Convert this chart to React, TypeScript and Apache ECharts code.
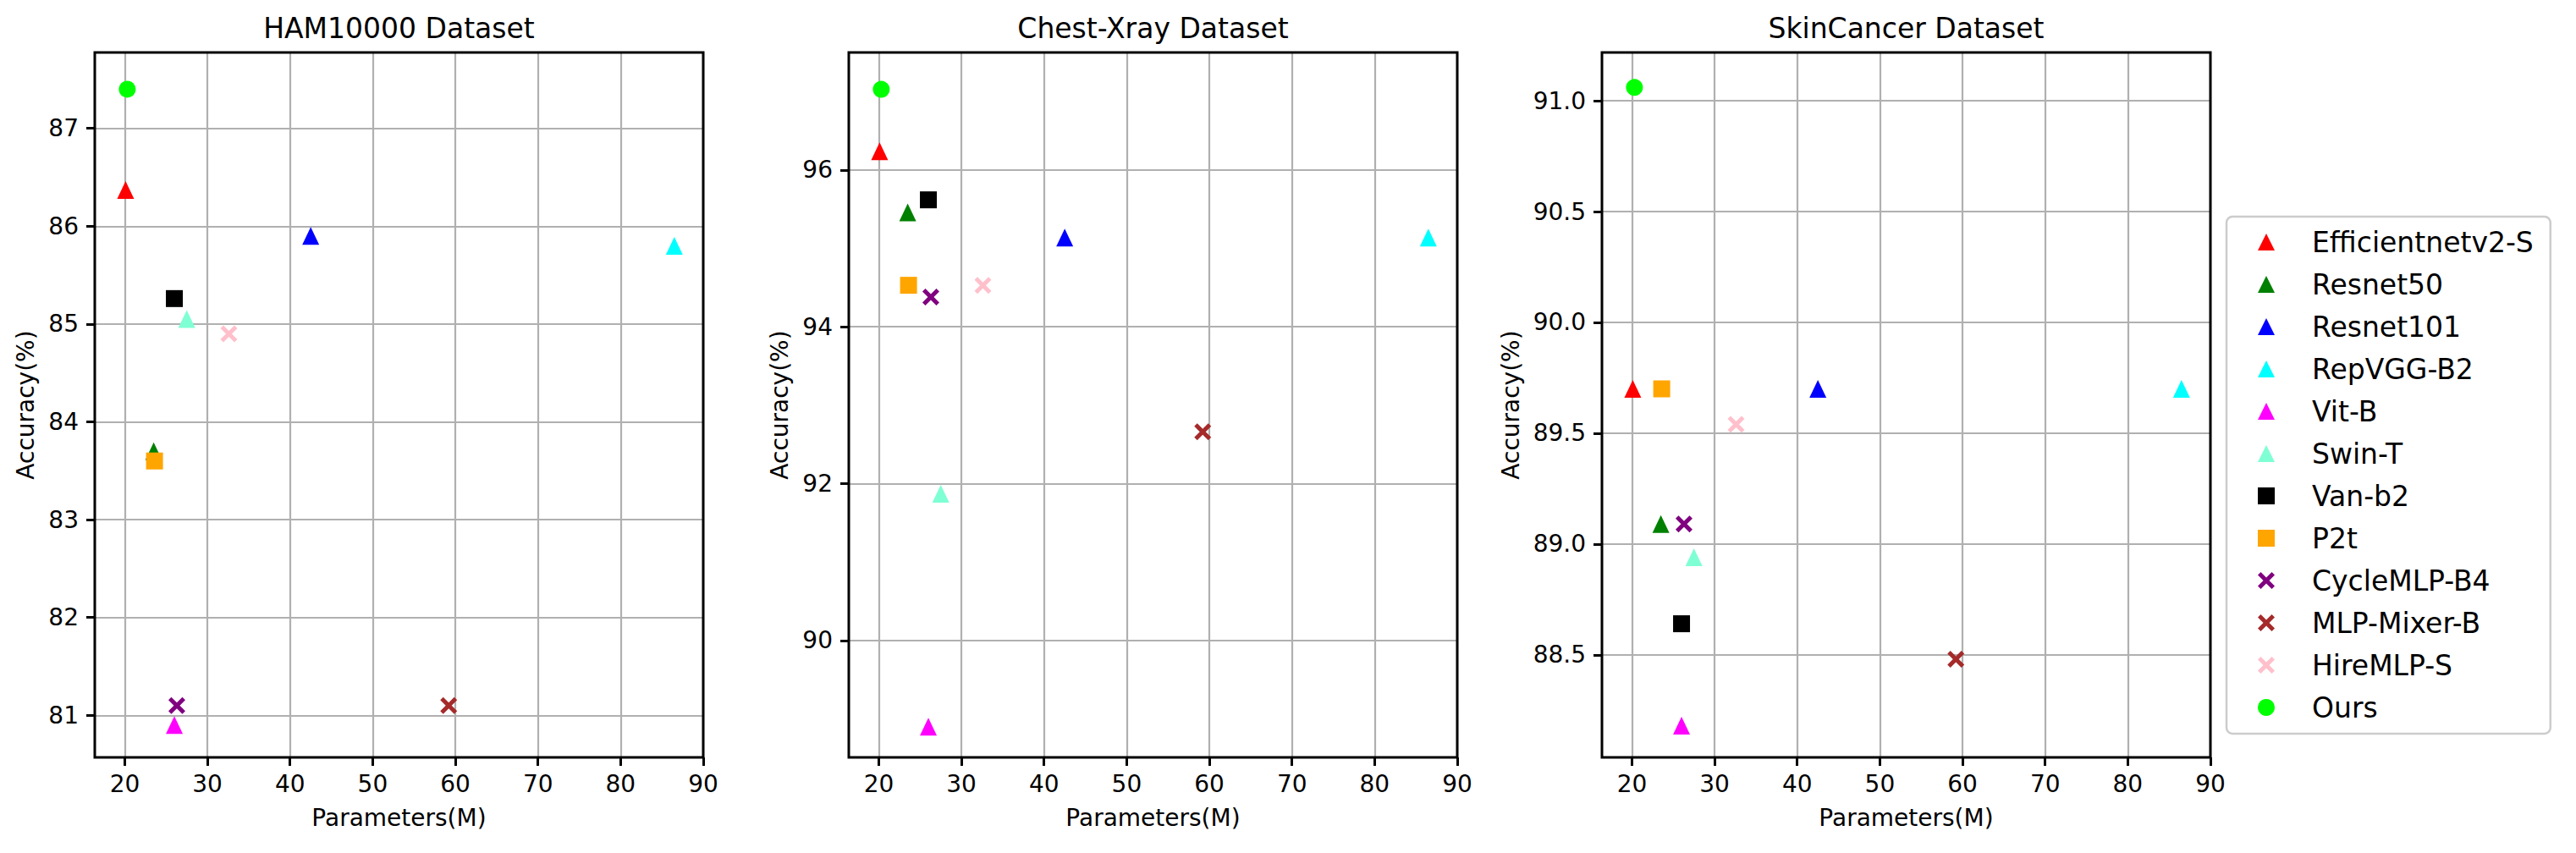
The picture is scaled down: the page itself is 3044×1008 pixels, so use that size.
import React, { useEffect, useRef } from 'react';
import * as echarts from 'echarts';

// ---------- data ----------
const models = [
  'Efficientnetv2-S', 'Resnet50', 'Resnet101', 'RepVGG-B2', 'Vit-B', 'Swin-T',
  'Van-b2', 'P2t', 'CycleMLP-B4', 'MLP-Mixer-B', 'HireMLP-S', 'Ours',
];
const params = [20.1, 23.5, 42.5, 86.5, 26.0, 27.5, 26.0, 23.6, 26.3, 59.2, 32.6, 20.3];
const hamAcc = [86.37, 83.7, 85.9, 85.8, 80.9, 85.05, 85.26, 83.6, 81.1, 81.1, 84.9, 87.4];
const chestAcc = [96.24, 95.46, 95.14, 95.14, 88.9, 91.87, 95.62, 94.53, 94.38, 92.66, 94.53, 97.03];
const skinAcc = [89.7, 89.09, 89.7, 89.7, 88.18, 88.94, 88.64, 89.7, 89.09, 88.48, 89.54, 91.06];

const datasetTitles = ['HAM10000 Dataset', 'Chest-Xray Dataset', 'SkinCancer Dataset'];
const xTicks = [20, 30, 40, 50, 60, 70, 80, 90];
const hamTicks = [81, 82, 83, 84, 85, 86, 87];
const chestTicks = [90, 92, 94, 96];
const skinTicks = [88.5, 89.0, 89.5, 90.0, 90.5, 91.0];

// ---------- styles ----------
const colors = ['#ff0000', '#008000', '#0000ff', '#00ffff', '#ff00ff', '#7fffd4',
  '#000000', '#ffa500', '#800080', '#a52a2a', '#ffc0cb', '#00ff00'];
const X_PATH = 'path://M0,3.5 L3.5,0 L10,6.5 L16.5,0 L20,3.5 L13.5,10 L20,16.5 L16.5,20 L10,13.5 L3.5,20 L0,16.5 L6.5,10 Z';
const markers = ['triangle', 'triangle', 'triangle', 'triangle', 'triangle', 'triangle',
  'rect', 'rect', X_PATH, X_PATH, X_PATH, 'circle'];

const FONT = 'DejaVu Sans';
const GRID_LEFTS = [112, 1003, 1893];
const Y_NAME_OFFSETS = [82, 82, 107.5];
const GRID_TOP = 62;
const GRID_W = 719;
const GRID_H = 833;
const X_RANGE = [16.37, 90];
const Y_RANGES = [[80.57, 87.776], [88.508, 97.5], [88.037, 91.218]];

export default function App() {
  const ref = useRef<HTMLDivElement>(null);

  useEffect(() => {
    if (!ref.current) return;
    const chart = echarts.init(ref.current, undefined, { renderer: 'svg' });
    const accs = [hamAcc, chestAcc, skinAcc];
    const yTicks = [hamTicks, chestTicks, skinTicks];

    const grid = GRID_LEFTS.map((left) => ({ left, top: GRID_TOP, width: GRID_W, height: GRID_H, containLabel: false }));

    const xAxis = GRID_LEFTS.map((_, i) => ({
      type: 'value', gridIndex: i, min: X_RANGE[0], max: X_RANGE[1],
      axisLine: { show: false },
      axisTick: { show: true, length: 10, lineStyle: { color: '#000', width: 3 }, customValues: xTicks },
      axisLabel: { customValues: xTicks, fontSize: 28, fontFamily: FONT, color: '#000', margin: 17 },
      splitLine: { show: true, lineStyle: { color: '#b0b0b0', width: 2.2 } },
    }));

    const yAxis = GRID_LEFTS.map((_, i) => ({
      type: 'value', gridIndex: i, min: Y_RANGES[i][0], max: Y_RANGES[i][1],
      axisLine: { show: false },
      axisTick: { show: true, length: 10, lineStyle: { color: '#000', width: 3 }, customValues: yTicks[i] },
      axisLabel: {
        customValues: yTicks[i], fontSize: 28, fontFamily: FONT, color: '#000', margin: 19,
        formatter: i === 2 ? (v: number) => v.toFixed(1) : (v: number) => String(v),
      },
      splitLine: { show: true, lineStyle: { color: '#b0b0b0', width: 2.2 } },
    }));

    const series: any[] = [];
    for (let g = 0; g < 3; g++) {
      models.forEach((name, k) => {
        series.push({
          type: 'scatter', name, xAxisIndex: g, yAxisIndex: g,
          symbol: markers[k],
          symbolSize: markers[k] === 'triangle' ? [20, 21] : 20,
          itemStyle: { color: colors[k], opacity: 1 },
          data: [[params[k], accs[g][k]]],
        });
      });
    }

    const graphic: any[] = [];
    GRID_LEFTS.forEach((left, i) => {
      const cx = left + GRID_W / 2;
      graphic.push({
        type: 'rect', z: 100, silent: true,
        shape: { x: left, y: GRID_TOP, width: GRID_W, height: GRID_H },
        style: { fill: 'none', stroke: '#000', lineWidth: 3 },
      });
      graphic.push({
        type: 'text', x: cx, y: 33.5, z: 100,
        style: { text: datasetTitles[i], fontSize: 33, fontFamily: FONT, fill: '#000', align: 'center', verticalAlign: 'middle' },
      });
      graphic.push({
        type: 'text', x: cx, y: 966.7, z: 100,
        style: { text: 'Parameters(M)', fontSize: 28, fontFamily: FONT, fill: '#000', align: 'center', verticalAlign: 'middle' },
      });
      graphic.push({
        type: 'text', x: left - Y_NAME_OFFSETS[i], y: GRID_TOP + GRID_H / 2, rotation: Math.PI / 2, z: 100,
        style: { text: 'Accuracy(%)', fontSize: 28, fontFamily: FONT, fill: '#000', align: 'center', verticalAlign: 'middle' },
      });
    });

    chart.setOption({
      animation: false,
      backgroundColor: '#ffffff',
      grid, xAxis, yAxis, series, graphic,
      legend: {
        data: models, orient: 'vertical', left: 2631, top: 256,
        itemWidth: 20, itemHeight: 20, itemGap: 10,
        padding: [10, 20, 11, 37],
        textStyle: { fontSize: 33, fontFamily: FONT, color: '#000', lineHeight: 40, padding: [0, 0, 0, 39] },
        borderColor: '#cccccc', borderWidth: 2.5, borderRadius: 7,
        backgroundColor: 'rgba(255,255,255,0.8)',
        selectedMode: false,
      },
    });

    return () => chart.dispose();
  }, []);

  return <div ref={ref} style={{ position: 'absolute', left: 0, top: 0, width: 3044, height: 1008 }} />;
}
